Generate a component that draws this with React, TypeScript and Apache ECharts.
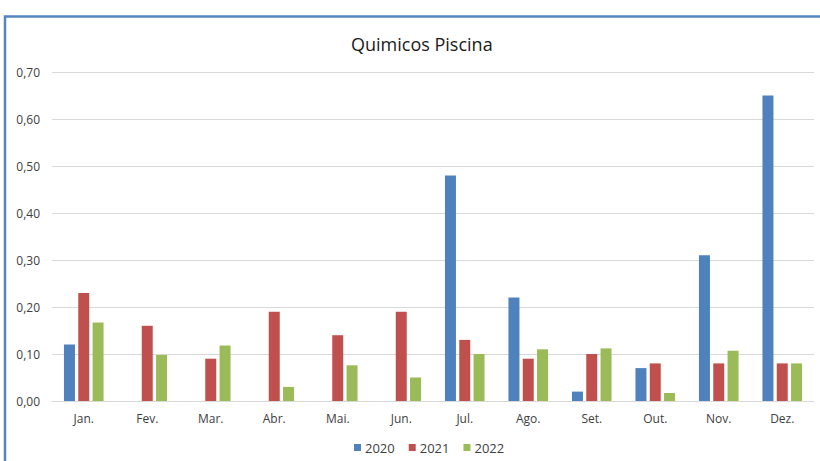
import React, { useEffect, useRef } from "react";
import * as echarts from "echarts";

const categories = ["Jan.", "Fev.", "Mar.", "Abr.", "Mai.", "Jun.", "Jul.", "Ago.", "Set.", "Out.", "Nov.", "Dez."];
const s2020 = [0.12, 0, 0, 0, 0, 0, 0.48, 0.22, 0.02, 0.07, 0.31, 0.65];
const s2021 = [0.23, 0.16, 0.09, 0.19, 0.14, 0.19, 0.13, 0.09, 0.10, 0.08, 0.08, 0.08];
const s2022 = [0.167, 0.098, 0.118, 0.03, 0.076, 0.05, 0.10, 0.11, 0.112, 0.017, 0.107, 0.08];
const seriesNames = ["2020", "2021", "2022"];
const colors = ["#4F81BD", "#C0504D", "#9BBB59"];

export default function App() {
  const ref = useRef<HTMLDivElement>(null);
  useEffect(() => {
    if (!ref.current) return;
    const chart = echarts.init(ref.current, null, { renderer: "svg" });
    const data = [s2020, s2021, s2022];
    chart.setOption({
      animation: false,
      backgroundColor: "#ffffff",
      textStyle: { fontFamily: "Open Sans, sans-serif" },
      title: {
        text: "Quimicos Piscina",
        left: 346,
        top: 30,
        textStyle: { fontSize: 18, fontWeight: "normal", color: "#1a1a1a", fontFamily: "Open Sans, sans-serif" },
      },
      legend: {
        bottom: 2,
        left: 349,
        itemWidth: 7,
        itemHeight: 7,
        itemGap: 14,
        icon: "rect",
        textStyle: { fontSize: 13, color: "#404040", padding: [0, 0, 0, -1] },
        data: seriesNames,
      },
      graphic: [
        {
          type: "rect",
          shape: { x: 5, y: 16.5, width: 900, height: 600 },
          style: { fill: "none", stroke: "#5585C2", lineWidth: 2.5 },
          silent: true,
        },
      ],
      grid: { left: 52, right: 6, top: 72, bottom: 60, containLabel: false },
      xAxis: {
        type: "category",
        data: categories,
        axisLine: { lineStyle: { color: "#D9D9D9" } },
        axisTick: { show: false },
        axisLabel: { color: "#404040", fontSize: 12, margin: 11 },
      },
      yAxis: {
        type: "value",
        min: 0,
        max: 0.7,
        interval: 0.1,
        axisLine: { show: false },
        axisTick: { show: false },
        splitLine: { lineStyle: { color: "#D9D9D9", width: 1 } },
        axisLabel: {
          color: "#404040",
          fontSize: 12,
          margin: 12,
          formatter: (v: number) => v.toFixed(2).replace(".", ","),
        },
      },
      series: seriesNames.map((name, i) => ({
        name,
        type: "bar",
        data: data[i],
        barWidth: 11,
        barGap: "30%",
        barCategoryGap: "40%",
        itemStyle: { color: colors[i] },
      })),
    });
    return () => chart.dispose();
  }, []);
  return (
    <div
      ref={ref}
      style={{ position: "fixed", left: 0, top: 0, width: 820, height: 461 }}
    />
  );
}
